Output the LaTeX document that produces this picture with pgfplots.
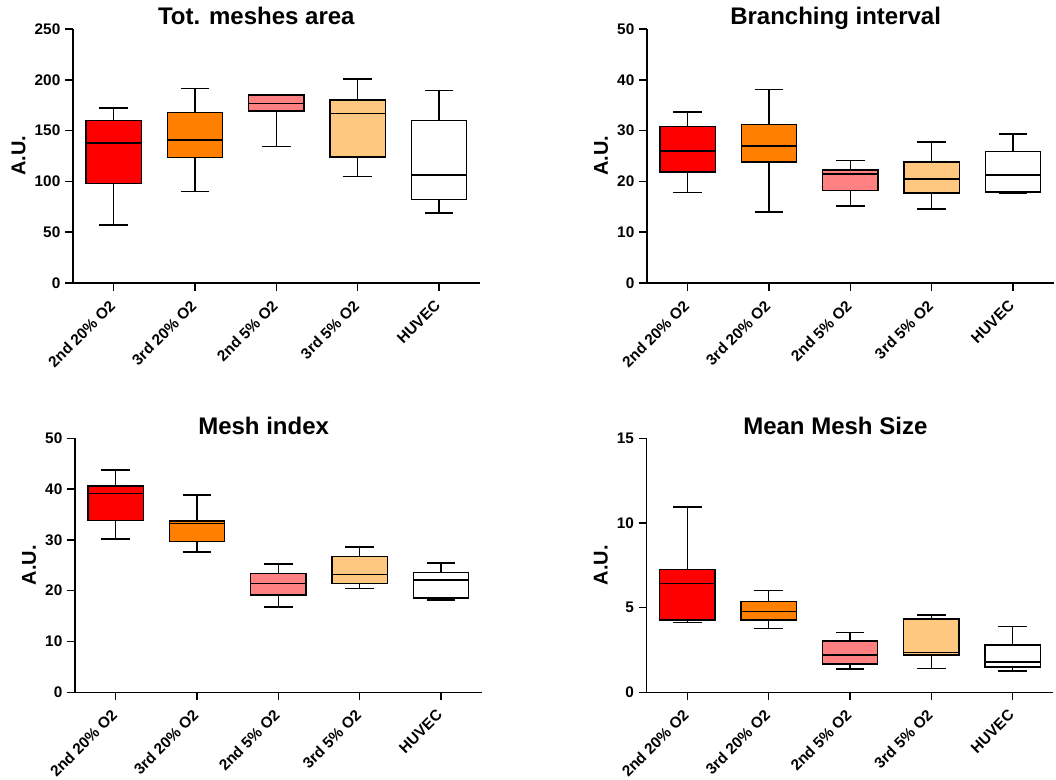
\documentclass[border=0pt]{standalone}
\usepackage{pgfplots}
\pgfplotsset{compat=1.18}
\usepgfplotslibrary{statistics}
\usepackage{fontspec}
\setmainfont{Liberation Sans}
\definecolor{gpred}{HTML}{FF0000}
\definecolor{gporange}{HTML}{FF8000}
\definecolor{gppink}{HTML}{FF8080}
\definecolor{gplorange}{HTML}{FFC880}
\pgfplotsset{
  gp/.style={
    scale only axis, width=305pt, height=190.5pt,
    anchor=south west,
    axis x line=bottom, axis y line=left,
    axis line style={-, line width=1.1pt, black},
    xmin=-0.5, xmax=4.5, ymin=0,
    xtick={0,1,2,3,4},
    xticklabels={2nd 20\% O2, 3rd 20\% O2, 2nd 5\% O2, 3rd 5\% O2, HUVEC},
    tick align=outside, major tick length=6pt,
    every tick/.style={black, line width=1.1pt},
    minor tick num=0,
    xticklabel shift=8pt,
    xticklabel style={rotate=45, anchor=east, xshift=2pt, font=\bfseries\fontsize{11.5}{13}\selectfont},
    yticklabel style={font=\bfseries\fontsize{11.5}{13}\selectfont},
    /pgf/number format/assume math mode=true,
    ylabel={A.U.},
    ylabel style={font=\bfseries\fontsize{15}{18}\selectfont},
    title style={font=\bfseries\fontsize{18}{21}\selectfont, anchor=base, yshift=-3pt, xshift=-11pt},
    clip=false,
    boxplot/draw direction=y,
    boxplot/every box/.style={draw=black, line width=1.2pt},
    boxplot/every whisker/.style={draw=black, line width=1.2pt},
    boxplot/every median/.style={draw=black, line width=1.2pt},
  },
  b/.style={draw=black, line width=1.2pt, solid, mark=none, boxplot/box extend=0.68, boxplot/whisker extend=0.35},
}
\begin{document}
\begin{tikzpicture}
\path[use as bounding box] (0,0) rectangle (792pt,585pt);
% Panel 1
\begin{axis}[gp, at={(54.75pt,372.75pt)}, ymax=250, ytick={0,50,100,150,200,250},
  title={Tot. meshes area}, title style={xshift=-4pt}]
\addplot[b, fill=gpred, boxplot prepared={lower whisker=57.1, lower quartile=98.1, median=137.5, upper quartile=159.8, upper whisker=172.2, draw position=0}] coordinates {};
\addplot[b, fill=gporange, boxplot prepared={lower whisker=90.2, lower quartile=123.7, median=140.7, upper quartile=167.7, upper whisker=191.6, draw position=1}] coordinates {};
\addplot[b, fill=gppink, boxplot prepared={lower whisker=134.2, lower quartile=169, median=176.5, upper quartile=185, upper whisker=185.7, draw position=2}] coordinates {};
\addplot[b, fill=gplorange, boxplot prepared={lower whisker=105, lower quartile=124, median=167, upper quartile=180.1, upper whisker=200.5, draw position=3}] coordinates {};
\addplot[b, fill=white, boxplot prepared={lower whisker=68.9, lower quartile=82, median=106.3, upper quartile=160.1, upper whisker=189.6, draw position=4}] coordinates {};
\end{axis}
% Panel 2
\begin{axis}[gp, at={(485.25pt,372.75pt)}, ymax=50, ytick={0,10,20,30,40,50},
  title={Branching interval}]
\addplot[b, fill=gpred, boxplot prepared={lower whisker=17.8, lower quartile=21.8, median=26.0, upper quartile=30.8, upper whisker=33.7, draw position=0}] coordinates {};
\addplot[b, fill=gporange, boxplot prepared={lower whisker=14.0, lower quartile=23.8, median=27.0, upper quartile=31.2, upper whisker=38.1, draw position=1}] coordinates {};
\addplot[b, fill=gppink, boxplot prepared={lower whisker=15.1, lower quartile=18.2, median=21.4, upper quartile=22.3, upper whisker=24.1, draw position=2}] coordinates {};
\addplot[b, fill=gplorange, boxplot prepared={lower whisker=14.6, lower quartile=17.7, median=20.5, upper quartile=23.8, upper whisker=27.8, draw position=3}] coordinates {};
\addplot[b, fill=white, boxplot prepared={lower whisker=17.6, lower quartile=17.9, median=21.3, upper quartile=25.9, upper whisker=29.3, draw position=4}] coordinates {};
\end{axis}
% Panel 3
\begin{axis}[gp, at={(56.25pt,65.8pt)}, ymax=50, ytick={0,10,20,30,40,50},
  title={Mesh index}]
\addplot[b, fill=gpred, boxplot prepared={lower whisker=30.2, lower quartile=33.8, median=39.1, upper quartile=40.6, upper whisker=43.8, draw position=0}] coordinates {};
\addplot[b, fill=gporange, boxplot prepared={lower whisker=27.6, lower quartile=29.7, median=33.2, upper quartile=33.7, upper whisker=38.8, draw position=1}] coordinates {};
\addplot[b, fill=gppink, boxplot prepared={lower whisker=16.8, lower quartile=19.2, median=21.4, upper quartile=23.4, upper whisker=25.2, draw position=2}] coordinates {};
\addplot[b, fill=gplorange, boxplot prepared={lower whisker=20.4, lower quartile=21.4, median=23.2, upper quartile=26.7, upper whisker=28.6, draw position=3}] coordinates {};
\addplot[b, fill=white, boxplot prepared={lower whisker=18.2, lower quartile=18.6, median=22.1, upper quartile=23.6, upper whisker=25.4, draw position=4}] coordinates {};
\end{axis}
% Panel 4
\begin{axis}[gp, at={(485pt,65.8pt)}, ymax=15, ytick={0,5,10,15},
  title={Mean Mesh Size}]
\addplot[b, fill=gpred, boxplot prepared={lower whisker=4.11, lower quartile=4.25, median=6.42, upper quartile=7.26, upper whisker=10.93, draw position=0}] coordinates {};
\addplot[b, fill=gporange, boxplot prepared={lower whisker=3.76, lower quartile=4.27, median=4.78, upper quartile=5.37, upper whisker=6.0, draw position=1}] coordinates {};
\addplot[b, fill=gppink, boxplot prepared={lower whisker=1.36, lower quartile=1.67, median=2.20, upper quartile=3.01, upper whisker=3.52, draw position=2}] coordinates {};
\addplot[b, fill=gplorange, boxplot prepared={lower whisker=1.40, lower quartile=2.19, median=2.34, upper quartile=4.33, upper whisker=4.57, draw position=3}] coordinates {};
\addplot[b, fill=white, boxplot prepared={lower whisker=1.26, lower quartile=1.48, median=1.79, upper quartile=2.78, upper whisker=3.88, draw position=4}] coordinates {};
\end{axis}
\end{tikzpicture}
\end{document}
